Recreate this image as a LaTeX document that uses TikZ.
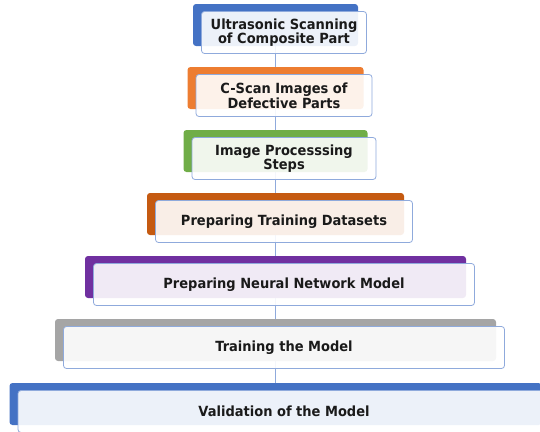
\documentclass[tikz,border=0pt]{standalone}
\usepackage{fontspec}
\newfontfamily\stepfont[FakeStretch=0.93]{DejaVu Sans}
\usetikzlibrary{positioning,backgrounds}

\definecolor{frame}{HTML}{8FAADC}
\definecolor{stepblue}{HTML}{4472C4}
\definecolor{steporange}{HTML}{ED7D31}
\definecolor{stepgreen}{HTML}{70AD47}
\definecolor{steprust}{HTML}{C55A11}
\definecolor{steppurple}{HTML}{7030A0}
\definecolor{stepgray}{HTML}{A5A5A5}
\definecolor{txt}{HTML}{1A1A1A}

\tikzset{
  backbox/.style={rounded corners=3pt, inner sep=0pt, minimum height=42pt},
  frontbox/.style={draw=frame, line width=0.8pt, rounded corners=3pt, fill=white,
    fill opacity=0.9, text opacity=1, text=txt, inner sep=0pt, minimum height=42pt,
    align=center, font=\stepfont\bfseries\fontsize{14}{13.5}\selectfont},
  link/.style={draw=frame, line width=1pt}
}

\begin{document}
\begin{tikzpicture}[x=1pt, y=-1pt]
\useasboundingbox (0,0) rectangle (540,431);

% farbige Hintergrundbloecke
\node[backbox, fill=stepblue, minimum width=165pt] (ultra-bg) at (275.5,25) {};
\node[backbox, fill=steporange, minimum width=176pt] (cscan-bg) at (275.5,88) {};
\node[backbox, fill=stepgreen, minimum width=184pt] (improc-bg) at (275.5,151) {};
\node[backbox, fill=steprust, minimum width=257pt] (data-bg) at (275.5,214) {};
\node[backbox, fill=steppurple, minimum width=381pt] (nn-bg) at (275.5,277) {};
\node[backbox, fill=stepgray, minimum width=441pt] (train-bg) at (275.5,340) {};
\node[backbox, fill=stepblue, minimum width=532pt] (valid-bg) at (275.5,404) {};

% Verbindungslinie
\begin{scope}[on background layer]
\draw[link] (ultra-bg.center) -- (valid-bg.center);
\end{scope}

% Textbloecke
\node[frontbox, minimum width=165pt] (ultra) at (284,32.5) {Ultrasonic Scanning\\of Composite Part};
\node[frontbox, minimum width=176pt] (cscan) at (284,95.5) {C-Scan Images of\\Defective Parts};
\node[frontbox, minimum width=184pt] (improc) at (284,158.5) {Image Processsing\\Steps};
\node[frontbox, minimum width=257pt] (data) at (284,221.5) {Preparing Training Datasets};
\node[frontbox, minimum width=381pt] (nn) at (284,284.5) {Preparing Neural Network Model};
\node[frontbox, minimum width=441pt] (train) at (284,347.5) {Training the Model};
\node[frontbox, minimum width=532pt] (valid) at (284,411.5) {Validation of the Model};

\end{tikzpicture}
\end{document}
